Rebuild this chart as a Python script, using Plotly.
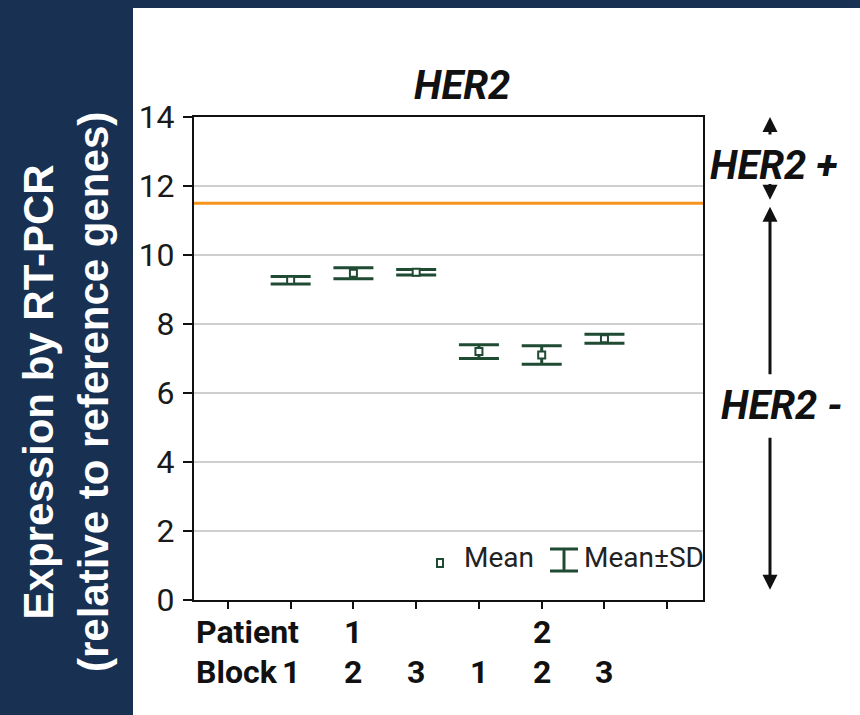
import plotly.graph_objects as go

# ---- data -------------------------------------------------------------
block_pos = [1, 2, 3, 4, 5, 6]
block_labels = ["1", "2", "3", "1", "2", "3"]
patient_pos = [2, 5]
patient_labels = ["1", "2"]
mean_expr = [9.27, 9.47, 9.50, 7.20, 7.10, 7.57]
sd_expr = [0.11, 0.16, 0.08, 0.20, 0.27, 0.13]
cutoff = 11.5
y_ticks = [0, 2, 4, 6, 8, 10, 12, 14]

# ---- styling ----------------------------------------------------------
W, H = 860, 715
L, R, T, B = 194, 703, 117, 600          # plot area in pixels
NAVY = "#183152"
GREEN = "#1f4b33"
ORANGE = "#f7941d"
COND = "Roboto, Liberation Sans, sans-serif"
ARIAL = "Liberation Sans, Arial, sans-serif"


def px_x(p):
    return (p - L) / (R - L)


def px_y(p):
    return (B - p) / (B - T)


def label(text, x, y, size, xref="paper", xanchor="center", color="#111",
          family=COND):
    return dict(text=text, xref=xref, yref="paper", x=x, y=y,
                xanchor=xanchor, yanchor="middle", showarrow=False,
                font=dict(family=family, size=size, color=color))


fig = go.Figure()

fig.add_trace(go.Scatter(
    x=block_pos, y=mean_expr, mode="markers",
    error_y=dict(type="data", array=sd_expr, visible=True,
                 color=GREEN, thickness=3, width=20),
    marker=dict(symbol="square", size=7, color="white",
                line=dict(color=GREEN, width=2)),
    showlegend=False, hoverinfo="skip",
))

shapes = [
    # navy frame: left panel and top strip
    dict(type="rect", xref="paper", yref="paper", layer="below",
         x0=px_x(0), x1=px_x(133), y0=px_y(H), y1=px_y(0),
         fillcolor=NAVY, line=dict(width=0)),
    dict(type="rect", xref="paper", yref="paper", layer="below",
         x0=px_x(0), x1=px_x(W), y0=px_y(8), y1=px_y(0),
         fillcolor=NAVY, line=dict(width=0)),
    # HER2 positivity cut-off
    dict(type="line", xref="paper", yref="y", x0=0, x1=1, y0=cutoff, y1=cutoff,
         line=dict(color=ORANGE, width=3), layer="below"),
    # legend glyphs
    dict(type="rect", xref="paper", yref="paper",
         x0=px_x(437), x1=px_x(443), y0=px_y(567), y1=px_y(559),
         fillcolor="white", line=dict(color=GREEN, width=2)),
    dict(type="line", xref="paper", yref="paper",
         x0=px_x(550), x1=px_x(578), y0=px_y(549), y1=px_y(549),
         line=dict(color=GREEN, width=3)),
    dict(type="line", xref="paper", yref="paper",
         x0=px_x(550), x1=px_x(578), y0=px_y(571), y1=px_y(571),
         line=dict(color=GREEN, width=3)),
    dict(type="line", xref="paper", yref="paper",
         x0=px_x(564), x1=px_x(564), y0=px_y(549), y1=px_y(571),
         line=dict(color=GREEN, width=3)),
]

ann = []
# chart title
ann.append(label("<b><i>HER2</i></b>", px_x(462), px_y(85), 40))
# vertical axis title on the navy panel
ann.append(dict(text="<b>Expression by RT-PCR<br>(relative to reference genes)</b>",
                xref="paper", yref="paper", x=px_x(66), y=px_y(392),
                textangle=-90, showarrow=False, xanchor="center", yanchor="middle",
                font=dict(family=ARIAL, size=42, color="white")))
# category rows under the x axis
ann.append(label("<b>Patient</b>", px_x(194), px_y(632), 32, xanchor="left"))
ann.append(label("<b>Block</b>", px_x(194), px_y(672), 32, xanchor="left"))
for xp, lab in zip(patient_pos, patient_labels):
    ann.append(label(f"<b>{lab}</b>", xp, px_y(632), 32, xref="x"))
for xp, lab in zip(block_pos, block_labels):
    ann.append(label(f"<b>{lab}</b>", xp, px_y(672), 32, xref="x"))
# legend text
ann.append(label("Mean", px_x(462), px_y(557), 28, xanchor="left", color="#222"))
ann.append(label("Mean±SD", px_x(582), px_y(557), 28, xanchor="left", color="#222"))
# HER2 status labels and arrows on the right
ann.append(label("<b><i>HER2 +</i></b>", px_x(773), px_y(165), 40))
ann.append(label("<b><i>HER2 -</i></b>", px_x(781), px_y(405), 40))
arrow_x = px_x(770)
for tip, tail in [(14.0, 13.45), (cutoff + 0.1, 12.1), (cutoff - 0.1, 6.5), (0.3, 4.75)]:
    ann.append(dict(text="", xref="paper", yref="y", x=arrow_x, y=tip,
                    axref="pixel", ax=0, ayref="y", ay=tail,
                    showarrow=True, arrowhead=2, arrowsize=1, arrowwidth=3,
                    arrowcolor="#111"))

fig.update_layout(
    width=W, height=H,
    margin=dict(l=L, r=W - R, t=T, b=H - B, pad=0),
    paper_bgcolor="white", plot_bgcolor="white",
    shapes=shapes, annotations=ann,
    xaxis=dict(range=[-0.54, 7.57], tickvals=list(range(8)), showticklabels=False,
               ticks="outside", ticklen=7, tickwidth=2, tickcolor="#111",
               showgrid=False, zeroline=False,
               showline=True, linecolor="#111", linewidth=2, mirror=True),
    yaxis=dict(range=[0, 14], tickvals=y_ticks, ticks="outside", ticklen=9,
               tickwidth=2, tickcolor="#111", ticklabelstandoff=2,
               tickfont=dict(family=COND, size=32, color="#1a1a1a"),
               showgrid=True, gridcolor="#cfcfcf", gridwidth=2, zeroline=False,
               showline=True, linecolor="#111", linewidth=2, mirror=True),
)

fig.write_html("out.html")
